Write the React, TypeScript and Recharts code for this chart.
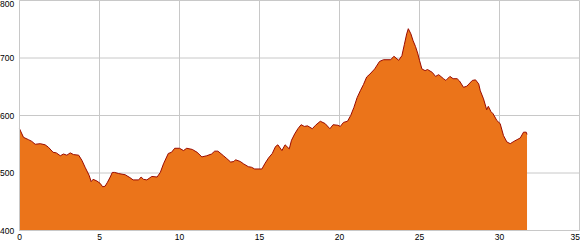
import { AreaChart, Area, XAxis, YAxis, CartesianGrid } from "recharts";

// distance (km) and elevation (m)
const distances = [
  0, 0.25, 0.56, 0.77, 0.98, 1.3, 1.6, 1.8, 2.1, 2.3, 2.55, 2.75, 2.96, 3.17, 3.38, 3.7, 3.9, 4.1, 4.35,
  4.48, 4.6, 4.84, 5.04, 5.2, 5.35, 5.5, 5.67, 5.8, 5.95, 6.2, 6.6, 6.9, 7.1, 7.45, 7.6, 7.75, 7.96, 8.27,
  8.6, 8.8, 9.0, 9.3, 9.5, 9.7, 10.0, 10.25, 10.45, 10.8, 11.1, 11.4, 11.7, 12.0, 12.2, 12.4, 12.75, 12.96,
  13.2, 13.4, 13.5, 13.8, 14.0, 14.3, 14.5, 14.7, 15.15, 15.35, 15.56, 15.8, 16.0, 16.15, 16.4, 16.6, 16.86,
  17.0, 17.2, 17.4, 17.6, 17.8, 18.0, 18.3, 18.5, 18.8, 19.1, 19.4, 19.6, 19.9, 20.05, 20.25, 20.5, 20.7,
  20.9, 21.1, 21.3, 21.5, 21.7, 21.9, 22.2, 22.5, 22.75, 23.2, 23.4, 23.7, 23.9, 24.05, 24.2, 24.3, 24.46,
  24.6, 24.75, 24.9, 25.0, 25.15, 25.35, 25.5, 25.8, 26.0, 26.2, 26.5, 26.65, 26.9, 27.1, 27.35, 27.5,
  27.75, 27.96, 28.3, 28.5, 28.7, 28.8, 29.0, 29.2, 29.3, 29.46, 29.6, 29.84, 30.04, 30.25, 30.46, 30.67,
  30.9, 31.1, 31.3, 31.5, 31.67, 31.72,
];

const elevations = [
  577, 562, 558, 555, 550, 551, 549, 545, 536, 535, 530, 533, 531, 535, 532, 531, 522, 510, 496,
  485, 489, 486, 482, 476, 477, 484, 493, 501, 501, 499, 497, 492, 488, 488, 493, 489, 488, 494,
  493, 501, 516, 534, 536, 543, 543, 539, 543, 541, 536, 528, 530, 533, 538, 538, 530, 525,
  519, 520, 523, 520, 516, 511, 510, 507, 507, 517, 526, 534, 546, 549, 539, 549, 542,
  557, 568, 577, 584, 581, 582, 577, 583, 590, 586, 577, 584, 583, 581, 588, 590, 600,
  614, 631, 643, 654, 667, 672, 681, 694, 697, 697, 703, 696, 704, 723, 742, 751, 742,
  730, 720, 707, 696, 681, 678, 680, 675, 668, 671, 664, 661, 668, 664, 664, 660,
  649, 651, 661, 662, 655, 643, 629, 610, 616, 607, 603, 591, 586, 565, 554, 551,
  555, 558, 561, 571, 571, 567,
];

const xTicks = [0, 5, 10, 15, 20, 25, 30, 35];
const yTicks = [400, 500, 600, 700, 800];

const data = distances.map((km, i) => ({ km, elev: elevations[i] }));

const labelFont = { fontFamily: "'Liberation Sans', Arial, sans-serif", fontSize: 8.5, fill: "#000" };

function YTick(props: any) {
  const { y, payload } = props;
  // keep the top label inside the picture
  const yy = Math.max(y + 3, 6.5);
  return (
    <text x={0} y={yy} textAnchor="start" {...labelFont}>
      {payload.value}
    </text>
  );
}

function XTick(props: any) {
  const { x, payload } = props;
  // last label would run off the right edge
  const atEdge = x > 570;
  return (
    <text x={atEdge ? 580 : x} y={240} textAnchor={atEdge ? "end" : "middle"} {...labelFont}>
      {payload.value}
    </text>
  );
}

export default function App() {
  return (
    <div style={{ position: "absolute", left: 0, top: 0, width: 580, height: 250, background: "#fff" }}>
      <AreaChart width={580} height={250} data={data} margin={{ top: 0.5, right: 0.5, left: 0, bottom: 0 }}>
        <CartesianGrid stroke="#c8c8c8" strokeWidth={1} />
        <XAxis
          dataKey="km"
          type="number"
          domain={[0, 35]}
          ticks={xTicks}
          interval={0}
          height={19.5}
          tickLine={false}
          axisLine={{ stroke: "#c8c8c8" }}
          tick={<XTick />}
        />
        <YAxis
          type="number"
          domain={[400, 800]}
          ticks={yTicks}
          interval={0}
          width={19.5}
          tickLine={false}
          axisLine={{ stroke: "#c8c8c8" }}
          tick={<YTick />}
        />
        <Area
          type="linear"
          dataKey="elev"
          stroke="#9a0a00"
          strokeWidth={1}
          fill="#eb741a"
          fillOpacity={1}
          dot={false}
          activeDot={false}
          isAnimationActive={false}
        />
      </AreaChart>
    </div>
  );
}
